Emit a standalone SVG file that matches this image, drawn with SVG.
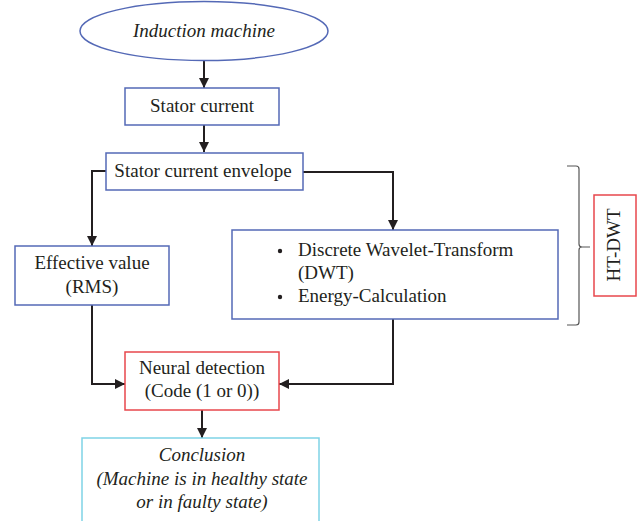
<svg xmlns="http://www.w3.org/2000/svg" width="641" height="521" viewBox="0 0 641 521">
<style>
text{font-family:"Liberation Serif","Times New Roman",serif;font-size:19px;fill:#231f20}
.it{font-style:italic}
.blue{fill:#fff;stroke:#5469b6;stroke-width:1.5}
.red{fill:#fff;stroke:#e8474c;stroke-width:1.5}
.cyan{fill:#fff;stroke:#7fd3e6;stroke-width:1.5}
.conn{fill:none;stroke:#231f20;stroke-width:2;marker-end:url(#ah)}
</style>
<defs>
<marker id="ah" viewBox="0 0 10 10" refX="10" refY="5" markerWidth="5" markerHeight="5" markerUnits="strokeWidth" orient="auto">
<path d="M0,0 L10,5 L0,10 Z" fill="#231f20"/>
</marker>
</defs>
<rect width="641" height="521" fill="#fff"/>
<g id="connectors">
<path class="conn" d="M204,61 V88"/>
<path class="conn" d="M204,125 V152"/>
<path class="conn" d="M106,171 H92 V246"/>
<path class="conn" d="M303,172 H393 V230"/>
<path class="conn" d="M92,305 V384 H125"/>
<path class="conn" d="M393,319 V384 H279"/>
<path class="conn" d="M202,410 V438"/>
</g>
<g id="induction-machine">
<ellipse cx="204" cy="31" rx="124" ry="29.5" fill="#fff" stroke="#5469b6" stroke-width="1.5"/>
<text class="it" x="204" y="37" text-anchor="middle">Induction machine</text>
</g>
<g id="stator-current">
<rect class="blue" x="125" y="88" width="154" height="37"/>
<text x="202" y="112" text-anchor="middle">Stator current</text>
</g>
<g id="stator-envelope">
<rect class="blue" x="106" y="153" width="197" height="37"/>
<text x="203" y="177" text-anchor="middle">Stator current envelope</text>
</g>
<g id="effective-value">
<rect class="blue" x="15" y="246" width="154" height="59"/>
<text x="92" y="269" text-anchor="middle">Effective value</text>
<text x="92" y="293" text-anchor="middle">(RMS)</text>
</g>
<g id="dwt">
<rect class="blue" x="232" y="230" width="326" height="89"/>
<circle cx="280" cy="251" r="2.2" fill="#231f20"/>
<text x="298" y="256">Discrete Wavelet-Transform</text>
<text x="298" y="279">(DWT)</text>
<circle cx="280" cy="297" r="2.2" fill="#231f20"/>
<text x="298" y="302">Energy-Calculation</text>
</g>
<g id="brace">
<path d="M567,166 H576 Q579,166 579,169 V244 Q579,247 582,247 H590 M582,247 Q579,247 579,250 V322 Q579,325 576,325 H567" fill="none" stroke="#555" stroke-width="1.2"/>
</g>
<g id="ht-dwt">
<rect class="red" x="594" y="195" width="42" height="101"/>
<text x="0" y="0" text-anchor="middle" transform="translate(620,245) rotate(-90)">HT-DWT</text>
</g>
<g id="neural-detection">
<rect class="red" x="125" y="352" width="154" height="58"/>
<text x="202" y="374" text-anchor="middle">Neural detection</text>
<text x="202" y="397" text-anchor="middle">(Code (1 or 0))</text>
</g>
<g id="conclusion">
<rect class="cyan" x="82" y="438" width="237" height="90"/>
<text class="it" x="202" y="461" text-anchor="middle">Conclusion</text>
<text class="it" x="202" y="485" text-anchor="middle">(Machine is in healthy state</text>
<text class="it" x="202" y="508" text-anchor="middle">or in faulty state)</text>
</g>
</svg>
